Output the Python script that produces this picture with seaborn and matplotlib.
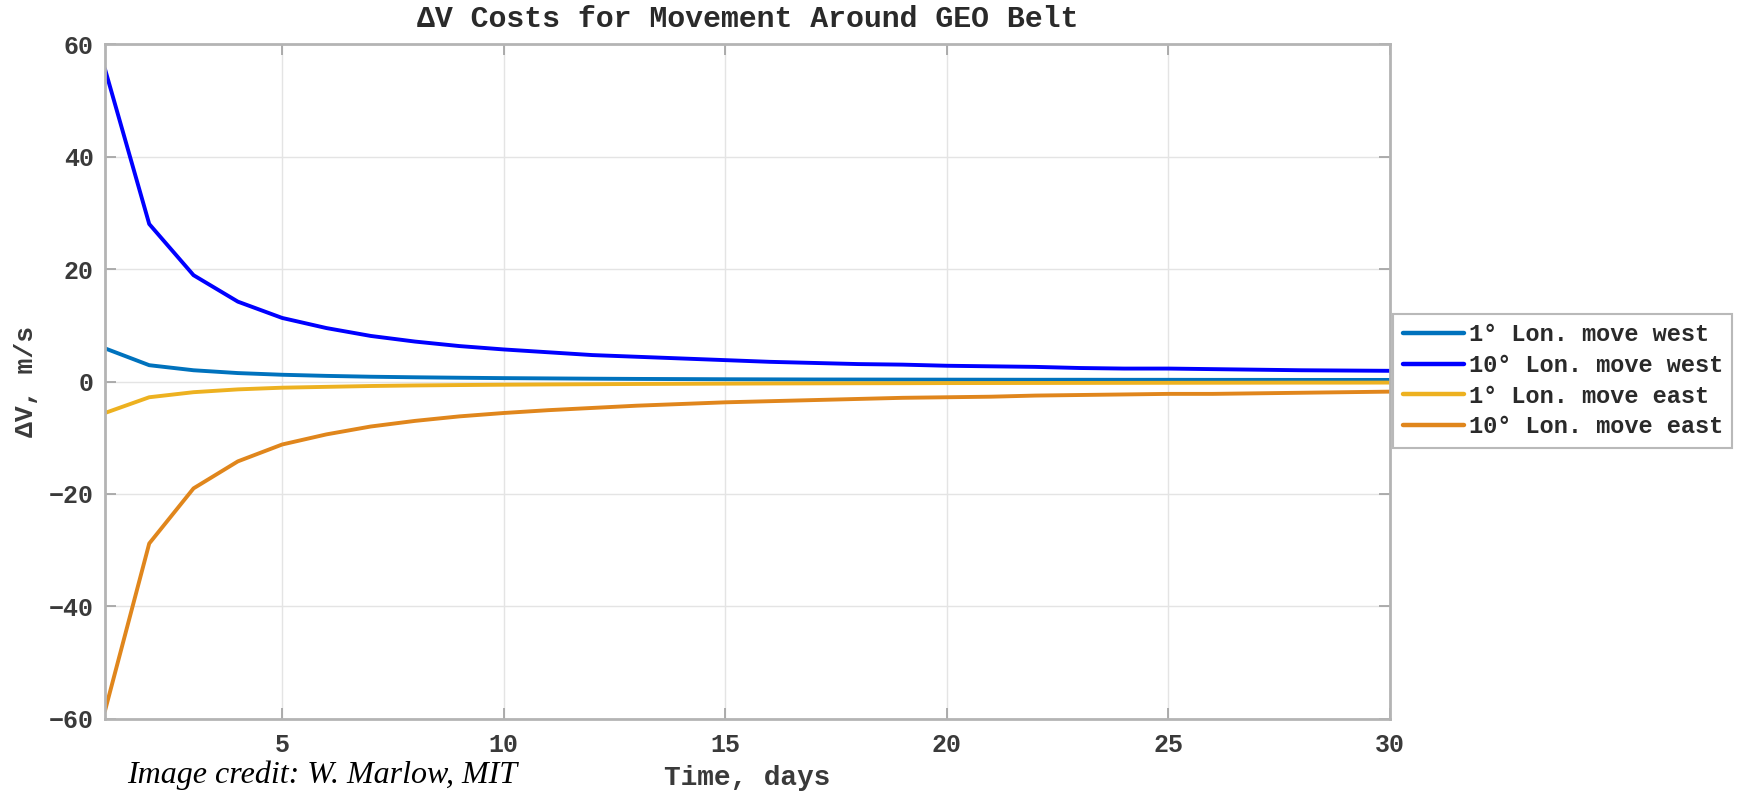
import matplotlib
matplotlib.use("Agg")
import matplotlib.pyplot as plt
import seaborn as sns
import pandas as pd

days = list(range(1, 31))
west_1 = [5.9, 2.9, 2.0, 1.5, 1.2, 1.0, 0.85, 0.75, 0.67, 0.6, 0.55, 0.5, 0.46, 0.43, 0.4,
          0.38, 0.36, 0.35, 0.34, 0.33, 0.32, 0.31, 0.31, 0.3, 0.3, 0.29, 0.29, 0.28, 0.28, 0.28]
west_10 = [55.6, 28.0, 18.9, 14.2, 11.3, 9.5, 8.1, 7.1, 6.3, 5.7, 5.2, 4.7, 4.4, 4.1, 3.8,
           3.5, 3.3, 3.1, 3.0, 2.8, 2.7, 2.6, 2.4, 2.3, 2.3, 2.2, 2.1, 2.0, 1.95, 1.9]
east_1 = [-5.6, -2.8, -1.9, -1.4, -1.1, -0.95, -0.8, -0.7, -0.63, -0.57, -0.52, -0.48, -0.44,
          -0.41, -0.38, -0.35, -0.33, -0.31, -0.3, -0.28, -0.27, -0.26, -0.25, -0.24, -0.23,
          -0.22, -0.21, -0.2, -0.2, -0.19]
east_10 = [-58.6, -28.8, -19.0, -14.2, -11.2, -9.4, -8.0, -7.0, -6.2, -5.6, -5.1, -4.7, -4.3,
           -4.0, -3.7, -3.5, -3.3, -3.1, -2.9, -2.8, -2.7, -2.5, -2.4, -2.3, -2.2, -2.2, -2.1,
           -2.0, -1.9, -1.8]
labels = ["1\u00b0 Lon. move west", "10\u00b0 Lon. move west",
          "1\u00b0 Lon. move east", "10\u00b0 Lon. move east"]
colors = ["#0072BD", "#0000FF", "#EDB120", "#E0861C"]
x_ticks = [5, 10, 15, 20, 25, 30]
y_ticks = [-60, -40, -20, 0, 20, 40, 60]

series = [west_1, west_10, east_1, east_10]
frames = []
for lab, vals in zip(labels, series):
    frames.append(pd.DataFrame({"day": days, "dv": vals, "series": lab}))
df = pd.concat(frames, ignore_index=True)

sns.set_theme(style="white")
mono = "Liberation Mono"
plt.rcParams["font.family"] = [mono, "DejaVu Sans"]

fig = plt.figure(figsize=(17.37, 7.92), dpi=100)
ax = fig.add_axes([0.0604, 0.0922, 0.7398, 0.8522])

sns.lineplot(data=df, x="day", y="dv", hue="series", hue_order=labels,
             palette=dict(zip(labels, colors)), linewidth=2.8, ax=ax, legend=True)

ax.set_xlim(1, 30)
ax.set_ylim(-60, 60)
ax.set_xticks(x_ticks)
ax.set_yticks(y_ticks)
ax.set_yticklabels([str(v).replace("-", "\u2212") for v in y_ticks])
ax.grid(True, color="#e4e4e4", linewidth=1.0)
ax.tick_params(direction="in", length=8, width=1.2, color="#a0a0a0",
               labelsize=18, labelcolor="#3a3a3a", top=True, right=True,
               bottom=True, left=True)
ax.tick_params(axis="x", pad=10)
ax.tick_params(axis="y", pad=8)
for lbl in ax.get_xticklabels() + ax.get_yticklabels():
    lbl.set_fontweight("bold")
for sp in ax.spines.values():
    sp.set_color("#b4b4b4")
    sp.set_linewidth(2.0)

ax.set_xlabel("Time, days", fontsize=20, fontweight="bold", color="#3a3a3a", labelpad=6)
ax.set_ylabel("\u0394V, m/s", fontsize=19, fontweight="bold", color="#3a3a3a", labelpad=8)
ax.set_title("\u0394V Costs for Movement Around GEO Belt", fontsize=21.5, fontweight="bold",
             color="#2a2a2a", pad=12)

leg = ax.legend(loc="upper left", bbox_to_anchor=(0.802, 0.6035),
                bbox_transform=fig.transFigure, borderaxespad=0, fancybox=False,
                frameon=True, handlelength=2.6, handletextpad=0.2, labelspacing=0.32,
                borderpad=0.4, prop={"family": mono, "weight": "bold", "size": 17})
leg.get_frame().set_edgecolor("#a8a8a8")
leg.get_frame().set_linewidth(1.5)
for t in leg.get_texts():
    t.set_color("#2a2a2a")
for h in leg.get_lines():
    h.set_linewidth(3.2)

fig.text(0.073, 0.0114, "Image credit: W. Marlow, MIT", fontsize=23, style="italic",
         family="Liberation Serif", color="black", ha="left", va="baseline")

fig.savefig("out.png", dpi=100)
